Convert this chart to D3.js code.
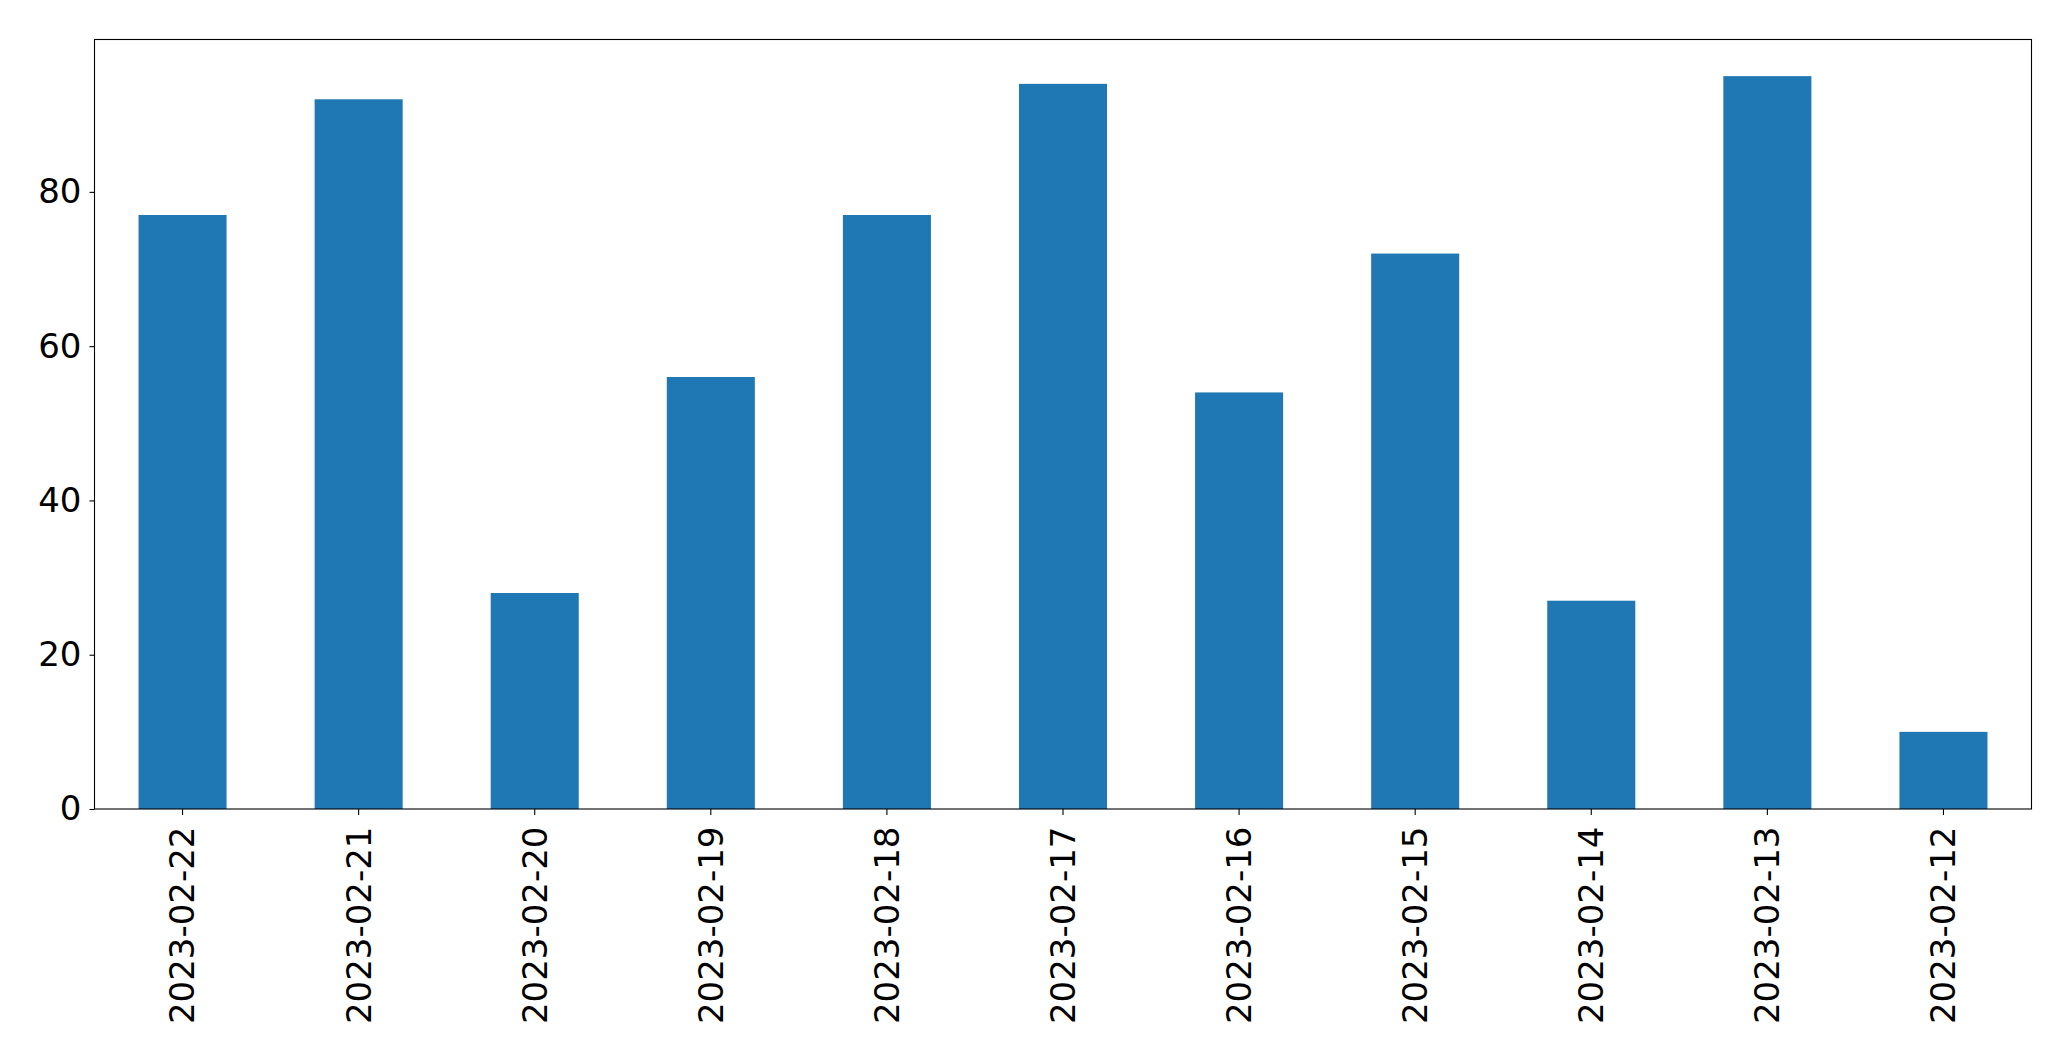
<!DOCTYPE html>
<html>
<head>
<meta charset="utf-8">
<script src="https://cdn.jsdelivr.net/npm/d3@7"></script>
<style>
  html, body { margin: 0; padding: 0; background: #fff; }
  svg { display: block; }
  text { font-family: "DejaVu Sans", sans-serif; fill: #000; }
</style>
</head>
<body>
<script>
const categories = ["2023-02-22","2023-02-21","2023-02-20","2023-02-19","2023-02-18","2023-02-17","2023-02-16","2023-02-15","2023-02-14","2023-02-13","2023-02-12"];
const values = [77, 92, 28, 56, 77, 94, 54, 72, 27, 95, 10];
const yTicks = [0, 20, 40, 60, 80];

const W = 2071, H = 1061;
const m = { left: 94.5, top: 39.5, right: W - 2031.5, bottom: H - 809 };

const svg = d3.select("body").append("svg").attr("width", W).attr("height", H);

const x = d3.scaleBand().domain(categories)
  .range([m.left, W - m.right]).paddingInner(0.5).paddingOuter(0.25);
const y = d3.scaleLinear().domain([0, d3.max(values) * 1.05]).range([H - m.bottom, m.top]);

svg.append("g").selectAll("rect").data(values).join("rect")
  .attr("x", (d, i) => x(categories[i]))
  .attr("width", x.bandwidth())
  .attr("y", d => y(d))
  .attr("height", d => y(0) - y(d))
  .attr("fill", "#1f77b4");

const fs = 34;

const yAxis = svg.append("g").attr("transform", `translate(${m.left},0)`)
  .call(d3.axisLeft(y).tickValues(yTicks).tickSize(5).tickPadding(8).tickFormat(d3.format("d")));
yAxis.select(".domain").remove();
yAxis.selectAll("line").attr("stroke", "#000").attr("stroke-width", 1.1);
yAxis.selectAll("text").style("font-size", fs + "px").attr("font-family", null);

const xAxis = svg.append("g").attr("transform", `translate(0,${H - m.bottom})`)
  .call(d3.axisBottom(x).tickSize(6).tickPadding(0));
xAxis.select(".domain").remove();
xAxis.selectAll("line").attr("stroke", "#000").attr("stroke-width", 1.1);
xAxis.selectAll("text")
  .style("font-size", fs + "px")
  .attr("font-family", null)
  .attr("transform", "rotate(-90)")
  .attr("text-anchor", "end")
  .attr("x", -17.5)
  .attr("y", 0)
  .attr("dy", "0.35em");

svg.append("rect")
  .attr("x", m.left).attr("y", m.top)
  .attr("width", W - m.right - m.left).attr("height", H - m.bottom - m.top)
  .attr("fill", "none").attr("stroke", "#000").attr("stroke-width", 1.1);
</script>
</body>
</html>
